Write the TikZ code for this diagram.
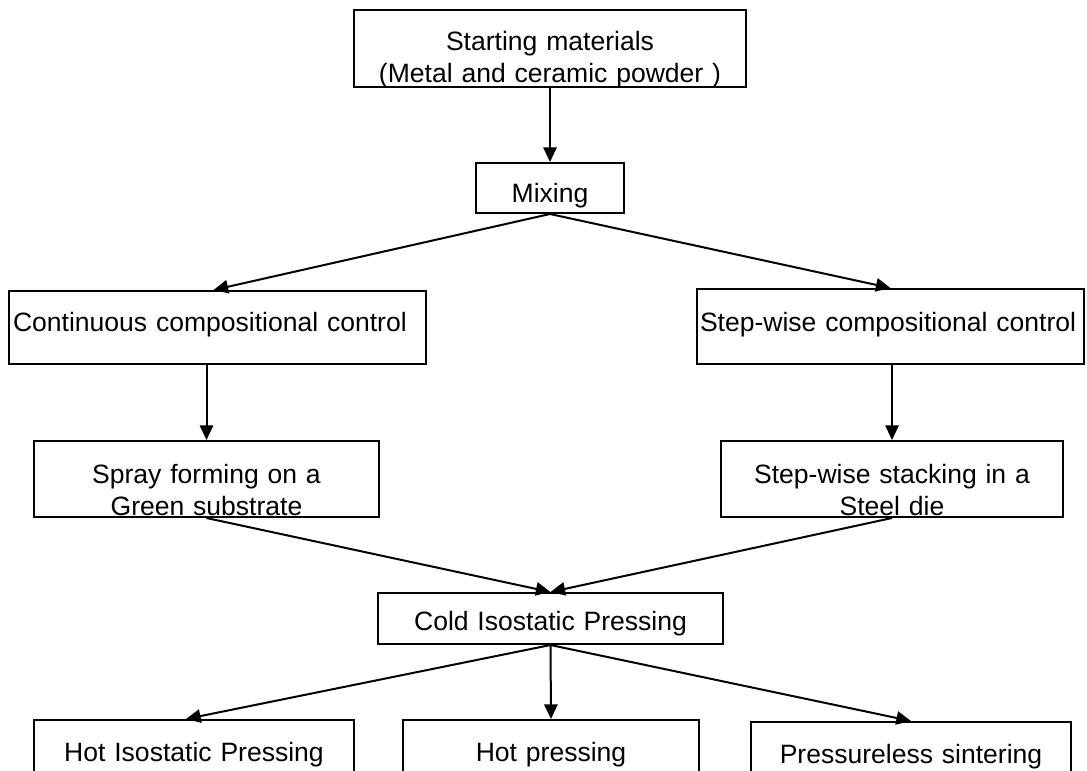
\documentclass[tikz,border=0pt]{standalone}
\usepackage{fontspec}
\setmainfont{Liberation Sans}
\usetikzlibrary{arrows.meta}

\begin{document}
\begin{tikzpicture}[x=0.75pt, y=-0.75pt, line width=1.5pt, >={Triangle[length=11pt,width=10pt]},
  main/.style = {draw, rectangle, anchor=north west, inner sep=0pt, align=center,
    font=\fontsize{19.9pt}{24pt}\selectfont}]
\useasboundingbox (0,0) rectangle (1087,770);
\node[main, text width=294pt, text height=30.75pt, text depth=27pt] (start) at (353,9) {Starting materials\\(Metal and ceramic powder )};
\node[main, text width=111pt, text height=29.25pt, text depth=8.25pt] (mix) at (475,162) {Mixing};
\node[main, align=left, inner xsep=3pt, text width=306.75pt, text height=30pt, text depth=24.75pt] (cont) at (8,290) {Continuous compositional control};
\node[main, align=left, inner xsep=2.25pt, text width=285.75pt, text height=31.5pt, text depth=24.75pt] (stepc) at (696,288) {Step-wise compositional control};
\node[main, text width=258.75pt, text height=31.5pt, text depth=25.5pt] (spray) at (33,440) {Spray forming on a\\Green substrate};
\node[main, text width=256.5pt, text height=31.5pt, text depth=25.5pt] (stack) at (720,440) {Step-wise stacking in a\\Steel die};
\node[main, text width=258.75pt, text height=27.75pt, text depth=10.5pt] (cip) at (377,592) {Cold Isostatic Pressing};
\node[main, text width=240pt, text height=30.75pt, text depth=45pt] (hip) at (33,719) {Hot Isostatic Pressing};
\node[main, text width=222pt, text height=30.75pt, text depth=45pt] (hp) at (402,719) {Hot pressing};
\node[main, text width=240pt, text height=30.75pt, text depth=45pt] (pl) at (750,721) {Pressureless sintering};
\draw[->] (start) -- (mix);
\draw[->] (mix.south) -- ([xshift=-3pt]cont.north);
\draw[->] (mix.south) -- (stepc.north);
\draw[->] (cont.south -| spray.north) -- (spray.north);
\draw[->] (stepc.south -| stack.north) -- (stack.north);
\draw[->] (spray.south) -- (cip.north);
\draw[->] (stack.south) -- (cip.north);
\draw[->] (cip.south) -- ([xshift=-6pt]hip.north);
\draw[->] (cip.south) -- (hp.north);
\draw[->] (cip.south) -- (pl.north);
\end{tikzpicture}
\end{document}
